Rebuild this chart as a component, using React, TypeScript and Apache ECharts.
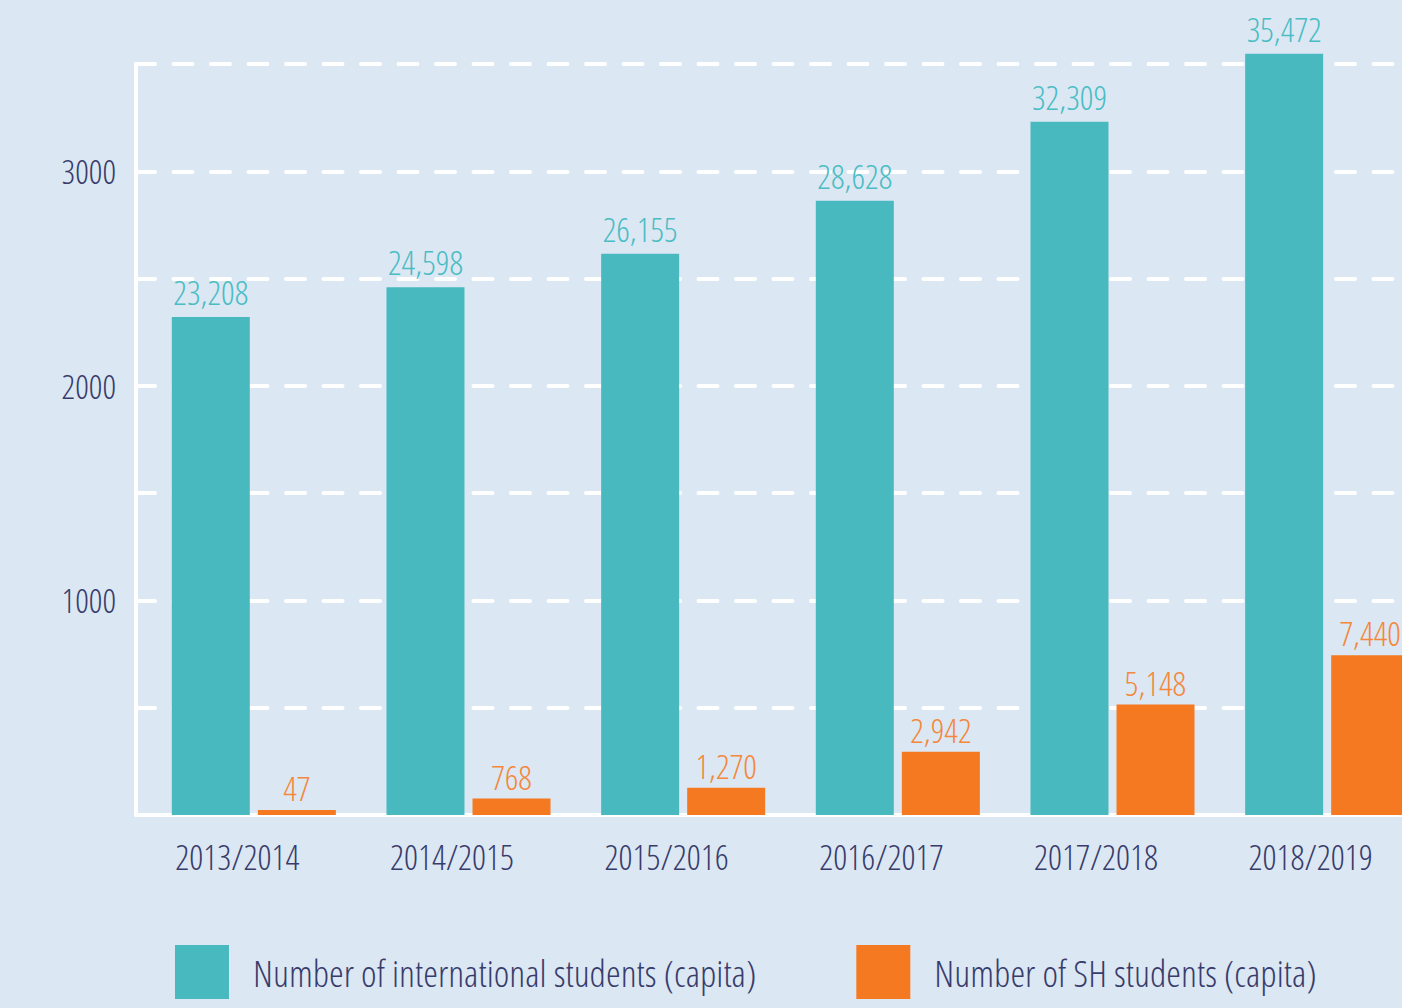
import React, { useEffect, useRef } from "react";
import * as echarts from "echarts";

const categories = ["2013/2014", "2014/2015", "2015/2016", "2016/2017", "2017/2018", "2018/2019"];
const internationalStudents = [23208, 24598, 26155, 28628, 32309, 35472];
const shStudents = [47, 768, 1270, 2942, 5148, 7440];
const yTickValues = [10000, 20000, 30000];
const yTickLabels = ["1000", "2000", "3000"];
const seriesNames = ["Number of international students (capita)", "Number of SH students (capita)"];

const BG = "#dce7f4";
const TEAL = "#48babf";
const ORANGE = "#f47920";
const TEAL_LABEL = "#4abdc3";
const ORANGE_LABEL = "#f4873a";
const NAVY = "#383c6b";
const FONT = "'Open Sans Condensed Light', 'Roboto Condensed', 'DejaVu Sans Condensed', sans-serif";

export default function App() {
  const ref = useRef<HTMLDivElement>(null);
  useEffect(() => {
    document.body.style.margin = "0";
    const chart = echarts.init(ref.current!, null, { renderer: "svg" });
    const fmt = (v: number) => v.toLocaleString("en-US");
    chart.setOption({
      animation: false,
      backgroundColor: BG,
      textStyle: { fontFamily: FONT },
      grid: [
        { left: 136, width: 1300, top: 64, bottom: 193, outerBoundsMode: "none" },
        { left: 146.5, width: 1288, top: 64, bottom: 193, outerBoundsMode: "none" },
      ],
      legend: {
        data: seriesNames,
        left: 175,
        top: 945,
        width: 1400,
        padding: 0,
        itemWidth: 54,
        itemHeight: 54,
        itemGap: 100,
        icon: "rect",
        textStyle: { color: NAVY, fontSize: 37.5, fontFamily: FONT, padding: [0, 0, 0, 19] },
      },
      xAxis: [
        {
          type: "category",
          gridIndex: 0,
          data: categories,
          axisLine: { show: true, lineStyle: { color: "#ffffff", width: 4 } },
          axisTick: { show: false },
          axisLabel: { show: false },
          splitLine: { show: false },
        },
        {
          type: "category",
          gridIndex: 1,
          data: categories,
          axisLine: { show: false },
          axisTick: { show: false },
          splitLine: { show: false },
          axisLabel: { color: NAVY, fontSize: 35, fontFamily: FONT, margin: 24, padding: [0, 33, 0, 0] },
        },
      ],
      yAxis: [
        {
          type: "value",
          gridIndex: 0,
          min: 0,
          max: 35000,
          interval: 5000,
          axisLine: { show: true, lineStyle: { color: "#ffffff", width: 4 } },
          axisTick: { show: false },
          splitLine: { show: true, lineStyle: { color: "#ffffff", width: 4, type: [19, 18.5], cap: "round" } },
          axisLabel: {
            color: NAVY,
            fontSize: 34,
            fontFamily: FONT,
            margin: 20,
            formatter: (v: number) => {
              const i = yTickValues.indexOf(v);
              return i >= 0 ? yTickLabels[i] : "";
            },
          },
        },
        { type: "value", gridIndex: 1, min: 0, max: 35000, interval: 5000, show: false },
      ],
      series: [
        {
          type: "bar",
          name: seriesNames[0],
          xAxisIndex: 1,
          yAxisIndex: 1,
          data: internationalStudents,
          clip: false,
          barWidth: 78,
          barGap: "10.3%",
          itemStyle: { color: TEAL },
          label: { show: true, position: "top", distance: 8, color: TEAL_LABEL, fontSize: 34, fontFamily: FONT, formatter: (p: any) => fmt(p.value) },
        },
        {
          type: "bar",
          name: seriesNames[1],
          xAxisIndex: 1,
          yAxisIndex: 1,
          data: shStudents,
          clip: false,
          barWidth: 78,
          barGap: "10.3%",
          barMinHeight: 5,
          itemStyle: { color: ORANGE },
          label: { show: true, position: "top", distance: 5, color: ORANGE_LABEL, fontSize: 34, fontFamily: FONT, formatter: (p: any) => fmt(p.value) },
        },
      ],
    });
    return () => chart.dispose();
  }, []);
  return <div ref={ref} style={{ width: 1402, height: 1008 }} />;
}
